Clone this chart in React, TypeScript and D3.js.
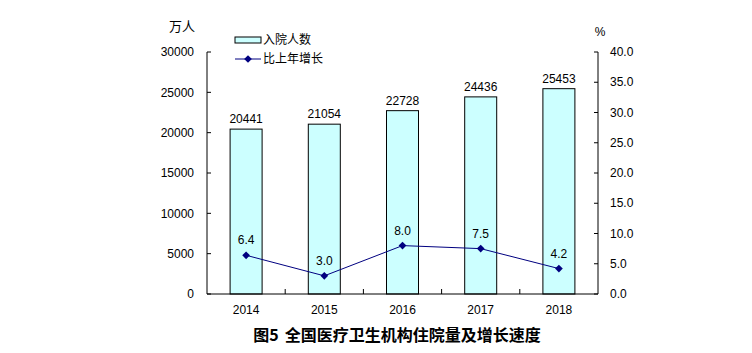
import React from 'react';
import * as d3 from 'd3';

const years = ['2014', '2015', '2016', '2017', '2018'];
const admissions = [20441, 21054, 22728, 24436, 25453];
const growth = [6.4, 3.0, 8.0, 7.5, 4.2];
const leftTicks = [0, 5000, 10000, 15000, 20000, 25000, 30000];
const rightTicks = [0, 5, 10, 15, 20, 25, 30, 35, 40];

const W = 752;
const H = 353;
const margin = { left: 207, right: 154, top: 52, bottom: 59 };
const font = '"Liberation Sans", Arial, "Noto Sans CJK SC", sans-serif';
const cjk = '"Noto Sans CJK SC", sans-serif';

const App: React.FC = () => {
  const x0 = margin.left;
  const x1 = W - margin.right;
  const y0 = H - margin.bottom;
  const y1 = margin.top;

  const x = d3.scaleBand<string>().domain(years).range([x0, x1]);
  const yL = d3.scaleLinear().domain([0, 30000]).range([y0, y1]);
  const yR = d3.scaleLinear().domain([0, 40]).range([y0, y1]);
  const barW = 32;
  const cx = (d: string) => (x(d) as number) + x.bandwidth() / 2;

  const line = d3
    .line<number>()
    .x((_, i) => cx(years[i]))
    .y((d) => yR(d));

  // square rotated 45 degrees gives the even diamond of the original
  const diamond = d3.symbol().type(d3.symbolSquare).size(30)();
  const navy = '#000080';

  return (
    <svg width={W} height={H} style={{ position: 'absolute', left: 0, top: 0, background: '#fff' }}>
      {/* bars */}
      {admissions.map((v, i) => (
        <rect
          key={years[i]}
          x={cx(years[i]) - barW / 2}
          y={yL(v)}
          width={barW}
          height={y0 - yL(v)}
          fill="#ccffff"
          stroke="#000"
          strokeWidth={1}
        />
      ))}
      {admissions.map((v, i) => (
        <text
          key={'bl' + i}
          x={cx(years[i])}
          y={yL(v) - 6}
          textAnchor="middle"
          fontFamily={font}
          fontSize={12}
        >
          {v}
        </text>
      ))}

      {/* axes */}
      <line x1={x0} x2={x0} y1={y1} y2={y0} stroke="#000" />
      <line x1={x1} x2={x1} y1={y1} y2={y0} stroke="#000" />
      <line x1={x0} x2={x1} y1={y0} y2={y0} stroke="#000" />
      {leftTicks.map((t) => (
        <g key={'l' + t}>
          <line x1={x0} x2={x0 + 4} y1={yL(t)} y2={yL(t)} stroke="#000" />
          <text x={x0 - 13} y={yL(t)} dy="0.35em" textAnchor="end" fontFamily={font} fontSize={12}>
            {t}
          </text>
        </g>
      ))}
      {rightTicks.map((t) => (
        <g key={'r' + t}>
          <line x1={x1 - 4} x2={x1} y1={yR(t)} y2={yR(t)} stroke="#000" />
          <text x={x1 + 12} y={yR(t)} dy="0.35em" textAnchor="start" fontFamily={font} fontSize={12}>
            {t.toFixed(1)}
          </text>
        </g>
      ))}
      {years.slice(1).map((d) => (
        <line key={'bt' + d} x1={x(d)} x2={x(d)} y1={y0} y2={y0 - 5} stroke="#000" />
      ))}
      {years.map((d) => (
        <text key={'x' + d} x={cx(d)} y={y0 + 20} textAnchor="middle" fontFamily={font} fontSize={12}>
          {d}
        </text>
      ))}

      {/* line series */}
      <path d={line(growth) || ''} fill="none" stroke={navy} strokeWidth={1} />
      {growth.map((v, i) => (
        <path
          key={'m' + i}
          d={diamond || ''}
          transform={`translate(${cx(years[i])},${yR(v)}) rotate(45)`}
          fill={navy}
        />
      ))}
      {growth.map((v, i) => (
        <text
          key={'gl' + i}
          x={cx(years[i])}
          y={yR(v) - 11}
          textAnchor="middle"
          fontFamily={font}
          fontSize={12}
        >
          {v.toFixed(1)}
        </text>
      ))}

      {/* units */}
      <text x={182} y={26} dy="0.35em" textAnchor="middle" fontFamily={cjk} fontSize={13}>
        万人
      </text>
      <text x={600} y={32} dy="0.35em" textAnchor="middle" fontFamily={font} fontSize={12}>
        %
      </text>

      {/* legend */}
      <rect x={235} y={37} width={26} height={6} fill="#ccffff" stroke="#000" />
      <text x={263} y={40} dy="0.35em" fontFamily={cjk} fontSize={12}>
        入院人数
      </text>
      <line x1={235} x2={261} y1={59} y2={59} stroke={navy} />
      <path d={diamond || ''} transform="translate(248,59) rotate(45)" fill={navy} />
      <text x={263} y={59} dy="0.35em" fontFamily={cjk} fontSize={12}>
        比上年增长
      </text>

      {/* title */}
      <text x={397} y={335} dy="0.35em" textAnchor="middle" fontFamily={cjk} fontSize={16} fontWeight="bold">
        <tspan>图5</tspan>
        <tspan dx={6}>全国医疗卫生机构住院量及增长速度</tspan>
      </text>
    </svg>
  );
};

export default App;
